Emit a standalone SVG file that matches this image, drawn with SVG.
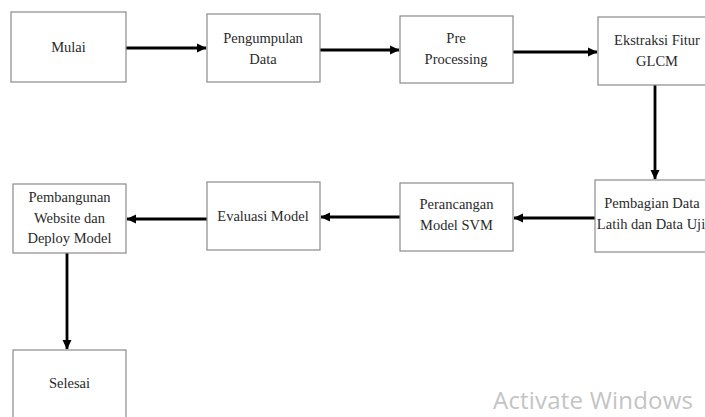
<svg xmlns="http://www.w3.org/2000/svg" width="705" height="417" viewBox="0 0 705 417">
<defs>
<marker id="ah" markerWidth="10" markerHeight="10" refX="9" refY="5" orient="auto" markerUnits="userSpaceOnUse">
<path d="M0,0.5 L9.5,5 L0,9.5 Z" fill="#000"/>
</marker>
<style>
.box{fill:#fff;stroke:#8a8a8a;stroke-width:1.2}
.t{font-family:"Liberation Serif","Times New Roman",serif;font-size:14.5px;fill:#2a2a2a;text-anchor:middle}
.c{fill:none;stroke:#000;stroke-width:2.8;marker-end:url(#ah)}
.wm{font-family:"Open Sans","Noto Sans","Liberation Sans",sans-serif;font-size:24px;fill:#c4c4c4}
</style>
</defs>
<rect width="705" height="417" fill="#fff"/>
<g id="connectors">
<path class="c" d="M126,48 H206"/>
<path class="c" d="M320,50 H399"/>
<path class="c" d="M513,52 H597"/>
<path class="c" d="M655,85 V179"/>
<path class="c" d="M595,218 H514"/>
<path class="c" d="M400,217 H321"/>
<path class="c" d="M207,219 H127"/>
<path class="c" d="M67,253 V349"/>
</g>
<g id="mulai"><rect class="box" x="11" y="12" width="115" height="70"/><text class="t" x="68.5" y="52">Mulai</text></g>
<g id="pengumpulan"><rect class="box" x="207" y="14" width="113" height="68"/><text class="t" x="263" y="43">Pengumpulan</text><text class="t" x="263" y="64">Data</text></g>
<g id="preprocessing"><rect class="box" x="400" y="16" width="113" height="67"/><text class="t" x="456" y="43">Pre</text><text class="t" x="456" y="64">Processing</text></g>
<g id="ekstraksi"><rect class="box" x="598" y="17" width="118" height="68"/><text class="t" x="657" y="45">Ekstraksi Fitur</text><text class="t" x="657" y="66">GLCM</text></g>
<g id="pembagian"><rect class="box" x="595" y="180" width="120" height="72"/><text class="t" x="652" y="208">Pembagian Data</text><text class="t" x="651" y="229">Latih dan Data Uji</text></g>
<g id="perancangan"><rect class="box" x="400" y="183" width="113" height="68"/><text class="t" x="456.5" y="209">Perancangan</text><text class="t" x="456.5" y="230">Model SVM</text></g>
<g id="evaluasi"><rect class="box" x="207" y="182" width="113" height="68"/><text class="t" x="263" y="221">Evaluasi Model</text></g>
<g id="pembangunan"><rect class="box" x="13" y="184" width="113" height="69"/><text class="t" x="69.5" y="202">Pembangunan</text><text class="t" x="69.5" y="223">Website dan</text><text class="t" x="69.5" y="243">Deploy Model</text></g>
<g id="selesai"><rect class="box" x="13" y="350" width="113" height="80"/><text class="t" x="69.5" y="388">Selesai</text></g>
<text class="wm" x="493" y="409" textLength="200">Activate Windows</text>
</svg>
